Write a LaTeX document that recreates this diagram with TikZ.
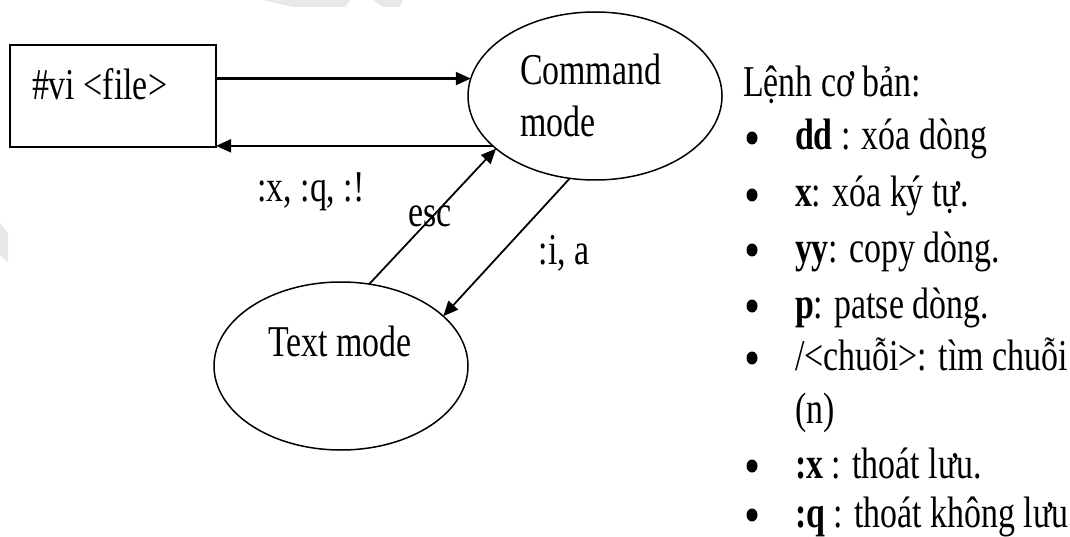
\documentclass[tikz,border=0pt]{standalone}
\usepackage{fontspec}
\setmainfont[FakeStretch=0.77]{Liberation Serif}
\usetikzlibrary{shapes.geometric,arrows.meta}
\begin{document}
\begin{tikzpicture}[x=1pt,y=-1pt,
  every node/.style={font=\fontsize{44}{53}\selectfont, inner sep=0pt, outer sep=0pt},
  arr/.style={line width=2.2pt, -{Triangle[length=15pt,width=13pt]}},
  darr/.style={line width=1.8pt, -{Triangle[length=15pt,width=13pt]}},
  oval/.style={ellipse, draw, line width=1.5pt, minimum width=254pt, minimum height=168pt},
  txt/.style={anchor=base west},
  ctxt/.style={anchor=base},
  dot/.style={ellipse, fill=black, minimum width=11pt, minimum height=13pt},
  wm/.style={fill=gray!18, draw=none}]
\path[use as bounding box, fill=white] (0,0) rectangle (1070,537);
% faint watermark marks
\fill[wm] (263,0) -- (350,0) -- (345,7) -- (293,7) -- cycle;
\fill[wm] (373,0) -- (403,0) -- (400,7) -- (383,7) -- cycle;
\fill[wm] (0,223) -- (8,233) -- (8,263) -- (0,255) -- cycle;
% shapes
\node[draw, line width=1.5pt, minimum width=206pt, minimum height=102pt, anchor=north west] (vi) at (10,45) {};
\node[txt] (vitxt) at (32,100) {\#vi <file>};
\node[oval] (cmd) at (595,96) {};
\node[txt] (cmdtxt1) at (520,85) {Command};
\node[txt] (cmdtxt2) at (520,137) {mode};
\node[oval] (tm) at (341,366) {};
\node[ctxt] (tmtxt) at (340,356) {Text mode};
% connectors
\draw[arr] (vi.east |- cmd.172) -- (cmd.172);
\draw[arr] (cmd.206.8) -- (cmd.206.8 -| vi.east);
\draw[darr] (tm.71.4) -- (cmd.208);
\draw[darr] (cmd.253.4) -- (tm.26);
% labels
\node[ctxt] (l1) at (311,202) {:x, :q, :!};
\node[ctxt] (l2) at (430,227) {esc};
\node[ctxt] (l3) at (564,265) {:i, a};
% command list
\node[txt] (h) at (743,97) {Lệnh cơ bản:};
\foreach \y/\n in {150/a,207/b,262/c,318/d,370/e,478/g,527/h}
  \node[dot] (b\n) at (752,\y-12) {};
\node[txt] (ia) at (795,150) {\textbf{dd} : xóa dòng};
\node[txt] (ib) at (795,207) {\textbf{x}: xóa ký tự.};
\node[txt] (ic) at (795,262) {\textbf{yy}: copy dòng.};
\node[txt] (id) at (795,318) {\textbf{p}: patse dòng.};
\node[txt] (ie) at (795,370) {/<chuỗi>: tìm chuỗi};
\node[txt] (iff) at (795,423) {(n)};
\node[txt] (ig) at (795,478) {\textbf{:x} : thoát lưu.};
\node[txt] (ih) at (795,527) {\textbf{:q} : thoát không lưu};
\end{tikzpicture}
\end{document}
